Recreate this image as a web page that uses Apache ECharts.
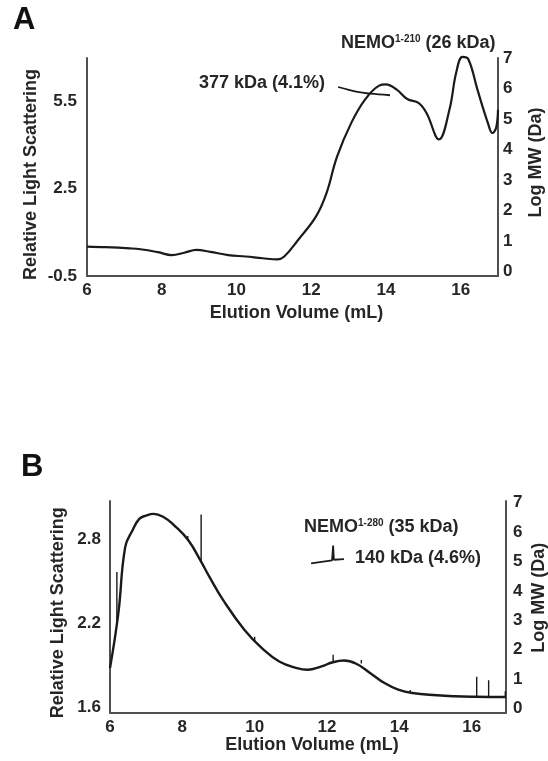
<!DOCTYPE html>
<html>
<head>
<meta charset="utf-8">
<script src="https://cdn.jsdelivr.net/npm/echarts@6/dist/echarts.min.js"></script>
<style>
html, body { margin: 0; padding: 0; background: #fff; }
#chart { width: 548px; height: 761px; }
</style>
</head>
<body>
<div id="chart"></div>
<script>
// Panel A - NEMO 1-210, light scattering trace (left axis)
var lsA_x = [6.0, 6.5, 7.14, 7.43, 7.9, 8.27, 8.6, 8.93, 9.3, 9.78, 10.25, 10.7, 11.09, 11.28, 11.65, 12.13, 12.41, 12.69, 13.07, 13.44, 13.82, 14.0, 14.29, 14.57, 14.88, 15.09, 15.42, 15.7, 15.88, 16.05, 16.21, 16.45, 16.73, 16.85, 16.95, 17.0];
var lsA_y = [0.51, 0.49, 0.45, 0.42, 0.32, 0.22, 0.3, 0.40, 0.33, 0.22, 0.17, 0.11, 0.07, 0.17, 0.74, 1.55, 2.35, 3.6, 4.76, 5.57, 6.05, 6.09, 5.91, 5.59, 5.45, 5.1, 4.2, 5.22, 6.49, 7.04, 6.95, 5.91, 4.76, 4.42, 4.6, 5.22];
// Panel A - molar mass segment (right axis)
var mwA_x = [12.72, 13.2, 13.6, 14.11];
var mwA_y = [6.05, 5.9, 5.83, 5.78];

// Panel B - NEMO 1-280, light scattering trace
var lsB_x = [6.0, 6.23, 6.42, 6.62, 6.81, 7.0, 7.2, 7.49, 7.78, 8.17, 8.5, 8.75, 9.13, 9.72, 10.2, 10.68, 11.17, 11.46, 11.85, 12.14, 12.47, 12.81, 13.2, 13.59, 13.97, 14.36, 15.04, 15.53, 16.1, 16.5, 16.95];
var lsB_y = [1.877, 2.267, 2.741, 2.859, 2.942, 2.966, 2.978, 2.954, 2.895, 2.788, 2.646, 2.528, 2.362, 2.149, 2.019, 1.924, 1.877, 1.865, 1.889, 1.917, 1.931, 1.908, 1.841, 1.770, 1.723, 1.699, 1.683, 1.676, 1.672, 1.671, 1.671];
// spikes on the B trace
var spikeB_x = [6.19, 8.52, 8.15, 10.0, 12.17, 12.95, 14.3, 16.14, 16.47, 16.93];
var spikeB_lo = [2.21, 2.64, 2.79, 2.07, 1.92, 1.91, 1.70, 1.672, 1.671, 1.671];
var spikeB_hi = [2.563, 2.973, 2.82, 2.10, 1.972, 1.935, 1.72, 1.816, 1.79, 1.711];
// Panel B - molar mass segment
var mwB_x = [11.56, 11.85, 12.14, 12.17, 12.19, 12.47];
var mwB_y = [4.94, 4.99, 5.04, 5.54, 5.06, 5.08];

var xTicks = [6, 8, 10, 12, 14, 16];
var lsA_ticks = [-0.5, 2.5, 5.5];
var lsB_ticks = [1.6, 2.2, 2.8];
var mwTicks = [0, 1, 2, 3, 4, 5, 6, 7];

var FONT = "'Liberation Sans', Arial, sans-serif";
var TXT = '#262626';
var AXC = '#505050';
var INK = '#1a1a1a';

function pairs(xs, ys) {
    return xs.map(function (x, i) { return [x, ys[i]]; });
}

function spikes(xs, lo, hi) {
    var out = [];
    for (var i = 0; i < xs.length; i++) {
        out.push([xs[i], lo[i]], [xs[i], hi[i]], [xs[i], null]);
    }
    return out;
}

function labelStyle(vals, margin) {
    return { customValues: vals, margin: margin, color: TXT, fontSize: 17, fontWeight: 'bold', fontFamily: FONT };
}

function nameStyle(pad) {
    return { color: TXT, fontSize: 18, fontWeight: 'bold', fontFamily: FONT, padding: pad || 0 };
}

function xAxisFor(grid, max, gap) {
    return {
        type: 'value', gridIndex: grid, min: 6, max: max,
        name: 'Elution Volume (mL)', nameLocation: 'middle', nameGap: gap, nameMoveOverlap: false,
        nameTextStyle: nameStyle([0, 0, 0, 8]),
        axisLine: { show: true, onZero: false, lineStyle: { color: AXC, width: 2 } },
        axisTick: { show: false }, splitLine: { show: false },
        axisLabel: labelStyle(xTicks, 6)
    };
}

function yAxisFor(grid, pos, min, max, ticks, name, gap, pad, margin) {
    return {
        type: 'value', gridIndex: grid, position: pos, min: min, max: max,
        name: name, nameLocation: 'middle', nameGap: gap, nameMoveOverlap: false,
        nameTextStyle: nameStyle(pad),
        axisLine: { show: true, onZero: false, lineStyle: { color: AXC, width: 2 } },
        axisTick: { show: false }, splitLine: { show: false },
        axisLabel: labelStyle(ticks, margin)
    };
}

var chart = echarts.init(document.getElementById('chart'));

var option = {
    animation: false,
    backgroundColor: '#fff',
    grid: [
        { left: 87, width: 411, top: 58, height: 218, outerBoundsMode: 'none' },
        { left: 110, width: 396, top: 501, height: 211.5, outerBoundsMode: 'none' }
    ],
    xAxis: [xAxisFor(0, 17, 28), xAxisFor(1, 16.95, 24)],
    yAxis: [
        yAxisFor(0, 'left', -0.5, 7.0, lsA_ticks, 'Relative Light Scattering', 47, [0, 15, 0, 0], 10),
        yAxisFor(0, 'right', -0.14, 7.0, mwTicks, 'Log MW (Da)', 29, [0, 0, 0, 9], 5),
        yAxisFor(1, 'left', 1.56, 3.07, lsB_ticks, 'Relative Light Scattering', 43, [0, 12, 0, 0], 9),
        yAxisFor(1, 'right', -0.14, 7.06, mwTicks, 'Log MW (Da)', 24, [0, 0, 0, 18], 7)
    ],
    series: [
        {
            type: 'line', xAxisIndex: 0, yAxisIndex: 0, data: pairs(lsA_x, lsA_y),
            smooth: 0.4, showSymbol: false, clip: false,
            lineStyle: { color: INK, width: 2.2 }
        },
        {
            type: 'line', xAxisIndex: 0, yAxisIndex: 1, data: pairs(mwA_x, mwA_y),
            smooth: 0.3, showSymbol: false,
            lineStyle: { color: INK, width: 1.8 }
        },
        {
            type: 'line', xAxisIndex: 1, yAxisIndex: 2, data: pairs(lsB_x, lsB_y),
            smooth: 0.45, showSymbol: false,
            lineStyle: { color: INK, width: 2.4 }
        },
        {
            type: 'line', xAxisIndex: 1, yAxisIndex: 2, data: spikes(spikeB_x, spikeB_lo, spikeB_hi),
            showSymbol: false, connectNulls: false,
            lineStyle: { color: INK, width: 1.4 }
        },
        {
            type: 'line', xAxisIndex: 1, yAxisIndex: 3, data: pairs(mwB_x, mwB_y),
            showSymbol: false,
            lineStyle: { color: INK, width: 1.8 }
        }
    ],
    graphic: [
        { type: 'text', x: 13, y: 20, style: { text: 'A', fill: '#111', font: 'bold 31px ' + FONT, verticalAlign: 'middle' } },
        { type: 'text', x: 21, y: 467, style: { text: 'B', fill: '#111', font: 'bold 31px ' + FONT, verticalAlign: 'middle' } },
        {
            type: 'text', x: 341, y: 43, style: {
                text: '{b|NEMO}{s|1-210}{b| (26 kDa)}', verticalAlign: 'middle',
                rich: {
                    b: { fontSize: 18, fontWeight: 'bold', fontFamily: FONT, fill: TXT },
                    s: { fontSize: 10, fontWeight: 'bold', fontFamily: FONT, fill: TXT, verticalAlign: 'top' }
                }
            }
        },
        { type: 'text', x: 199, y: 83, style: { text: '377 kDa (4.1%)', fill: TXT, font: 'bold 18px ' + FONT, verticalAlign: 'middle' } },
        {
            type: 'text', x: 304, y: 527, style: {
                text: '{b|NEMO}{s|1-280}{b| (35 kDa)}', verticalAlign: 'middle',
                rich: {
                    b: { fontSize: 18, fontWeight: 'bold', fontFamily: FONT, fill: TXT },
                    s: { fontSize: 10, fontWeight: 'bold', fontFamily: FONT, fill: TXT, verticalAlign: 'top' }
                }
            }
        },
        { type: 'text', x: 355, y: 558, style: { text: '140 kDa (4.6%)', fill: TXT, font: 'bold 18px ' + FONT, verticalAlign: 'middle' } }
    ]
};

chart.setOption(option);
</script>
</body>
</html>
